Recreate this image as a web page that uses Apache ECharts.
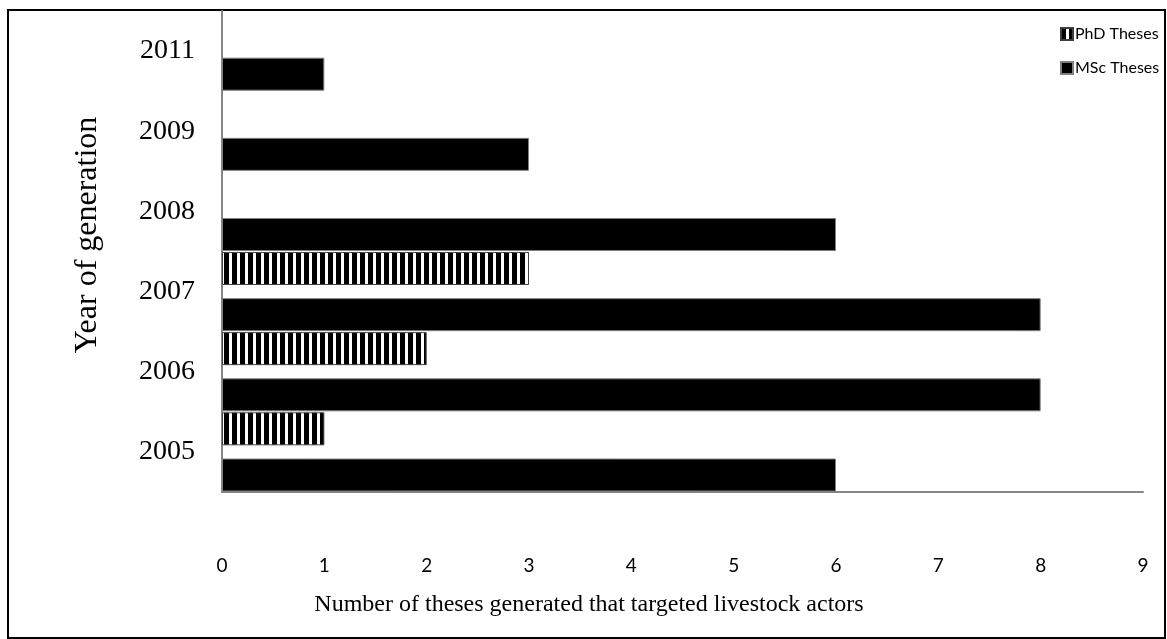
<!DOCTYPE html>
<html><head><meta charset="utf-8">
<script src="https://cdn.jsdelivr.net/npm/echarts@6/dist/echarts.min.js"></script>
<style>html,body{margin:0;padding:0;background:#fff}#c{width:1167px;height:639px}</style>
</head><body><div id="c"></div>
<script>
const years = ['2005', '2006', '2007', '2008', '2009', '2011'];
const phdTheses = [1, 2, 3, null, null, null];
const mscTheses = [6, 8, 8, 6, 3, 1];
const xTicks = [0, 1, 2, 3, 4, 5, 6, 7, 8, 9];
const seriesNames = ['PhD Theses', 'MSc Theses'];
const xAxisTitle = 'Number of theses generated that targeted livestock actors';
const yAxisTitle = 'Year of generation';

const pc = document.createElement('canvas');
pc.width = 8; pc.height = 8;
const g = pc.getContext('2d');
g.fillStyle = '#fff'; g.fillRect(0, 0, 8, 8);
g.fillStyle = '#000'; g.fillRect(0, 0, 5, 8);

const chart = echarts.init(document.getElementById('c'), null, {renderer: 'canvas'});
chart.setOption({
  animation: false,
  backgroundColor: '#fff',
  grid: {left: 222, right: 24, top: 11, bottom: 147},
  legend: {
    orient: 'vertical', left: 1055, top: 21, itemGap: 18,
    itemWidth: 12, itemHeight: 12, icon: 'rect',
    textStyle: {fontFamily: 'Lato', fontSize: 16, color: '#000', padding: [0, 0, 0, -3]},
    data: seriesNames
  },
  xAxis: {
    type: 'value', min: xTicks[0], max: xTicks[xTicks.length - 1], interval: 1,
    axisLine: {show: true, lineStyle: {color: '#868686', width: 2}},
    axisTick: {show: false},
    splitLine: {show: false},
    axisLabel: {margin: 64, fontFamily: 'Lato', fontSize: 19, color: '#000'}
  },
  yAxis: {
    type: 'category', data: years,
    axisLine: {show: true, lineStyle: {color: '#868686', width: 2}},
    axisTick: {show: false},
    axisLabel: {margin: 27, fontFamily: 'Liberation Serif', fontSize: 28, color: '#000'}
  },
  series: [
    {name: seriesNames[0], type: 'bar', data: phdTheses, barWidth: 33, barGap: '40%',
     itemStyle: {color: {image: pc, repeat: 'repeat'}, borderColor: '#404040', borderWidth: 1}},
    {name: seriesNames[1], type: 'bar', data: mscTheses, barWidth: 33, barGap: '40%',
     itemStyle: {color: '#000', borderColor: '#808080', borderWidth: 1}}
  ],
  graphic: [
    {type: 'rect', shape: {x: 8, y: 10, width: 1157, height: 628},
     style: {fill: null, stroke: '#000', lineWidth: 2}, silent: true},
    {type: 'text', x: 589, y: 605, style: {text: xAxisTitle, fontFamily: 'Liberation Serif', fontSize: 24, fill: '#000', align: 'center', verticalAlign: 'middle'}},
    {type: 'text', x: 88, y: 235, rotation: Math.PI / 2, style: {text: yAxisTitle, fontFamily: 'Liberation Serif', fontSize: 32, fill: '#000', align: 'center', verticalAlign: 'middle'}}
  ]
});
</script></body></html>
